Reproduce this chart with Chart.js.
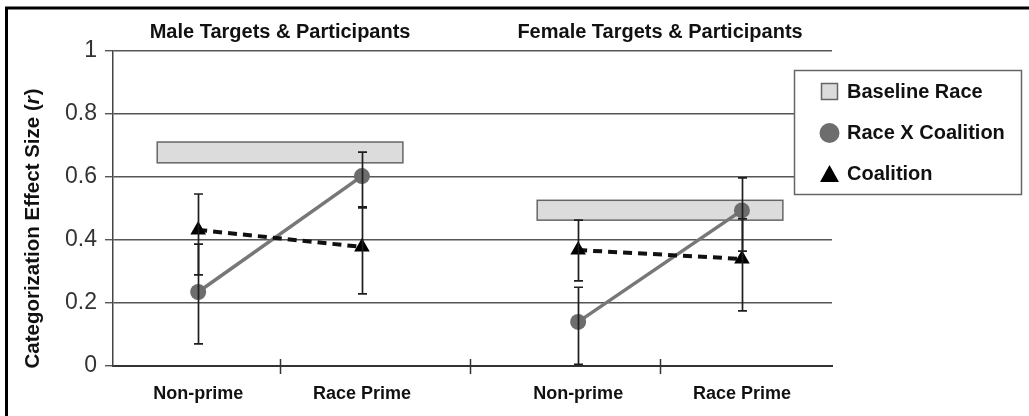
<!DOCTYPE html>
<html>
<head>
<meta charset="utf-8">
<script src="https://cdn.jsdelivr.net/npm/chart.js@4/dist/chart.umd.min.js"></script>
<style>
  body { margin: 0; background: #fff; }
  canvas { display: block; }
</style>
</head>
<body>
<canvas id="myChart" width="1029" height="416"></canvas>
<script>
// data
const groupTitles = ['Male Targets & Participants', 'Female Targets & Participants'];
const conditions = ['Non-prime', 'Race Prime', 'Non-prime', 'Race Prime'];
const xSlots = [1, 2, 3.32, 4.32];
const xDividers = [1.5, 2.66, 3.82];
const yTicks = [0, 0.2, 0.4, 0.6, 0.8, 1];

const raceXCoalition = [0.235, 0.603, 0.14, 0.494];
const rxcLow = [0.07, 0.505, 0.005, 0.365];
const rxcHigh = [0.387, 0.679, 0.25, 0.597];

const coalition = [0.432, 0.378, 0.368, 0.34];
const coalLow = [0.289, 0.229, 0.27, 0.175];
const coalHigh = [0.546, 0.502, 0.463, 0.467];

const baselineLow = [0.645, 0.463];
const baselineHigh = [0.711, 0.526];
const baselineFrom = [0.75, 3.07];
const baselineTo = [2.25, 4.57];

const FONT = '"Liberation Sans", Arial, sans-serif';
const RXC_GREY = '#6d6d6d';
const BOX_FILL = '#dcdcdc';

function pts(vals, g) {
    return [0, 1].map(k => ({ x: xSlots[g * 2 + k], y: vals[g * 2 + k] }));
}

const datasets = [];
for (let g = 0; g < 2; g++) {
    datasets.push({
        label: 'Coalition',
        data: pts(coalition, g),
        showLine: true,
        borderColor: '#111',
        borderWidth: 4,
        borderDash: [9, 6],
        pointStyle: 'triangle',
        pointRadius: 9,
        pointBackgroundColor: '#000',
        pointBorderWidth: 0,
        order: 1
    });
}
for (let g = 0; g < 2; g++) {
    datasets.push({
        label: 'Race X Coalition',
        data: pts(raceXCoalition, g),
        showLine: true,
        borderColor: '#777',
        borderWidth: 3.5,
        pointStyle: 'circle',
        pointRadius: 8,
        pointBackgroundColor: RXC_GREY,
        pointBorderWidth: 0,
        order: 2
    });
}

const decor = {
    id: 'decor',
    beforeDraw(chart) {
        const c = chart.ctx;
        c.save();
        c.fillStyle = '#fff';
        c.fillRect(0, 0, chart.width, chart.height);
        // frame (left + top)
        c.strokeStyle = '#000';
        c.lineWidth = 3;
        c.beginPath();
        c.moveTo(6.5, chart.height);
        c.lineTo(6.5, 8);
        c.lineTo(chart.width, 8);
        c.stroke();
        c.restore();
    },
    beforeDatasetsDraw(chart) {
        const c = chart.ctx;
        const xs = chart.scales.x, ys = chart.scales.y;
        c.save();
        for (let g = 0; g < 2; g++) {
            const x1 = xs.getPixelForValue(baselineFrom[g]);
            const x2 = xs.getPixelForValue(baselineTo[g]);
            const y1 = ys.getPixelForValue(baselineHigh[g]);
            const y2 = ys.getPixelForValue(baselineLow[g]);
            c.fillStyle = BOX_FILL;
            c.fillRect(x1, y1, x2 - x1, y2 - y1);
            c.strokeStyle = '#666';
            c.lineWidth = 1.5;
            c.strokeRect(x1, y1, x2 - x1, y2 - y1);
        }
        c.restore();
    },
    afterDatasetsDraw(chart) {
        const c = chart.ctx;
        const xs = chart.scales.x, ys = chart.scales.y;
        c.save();
        c.strokeStyle = '#1e1e1e';
        c.lineWidth = 1.7;
        const bar = (xv, lo, hi) => {
            const x = Math.round(xs.getPixelForValue(xv)) + 0.5;
            const a = ys.getPixelForValue(lo), b = ys.getPixelForValue(hi);
            c.beginPath();
            c.moveTo(x, a); c.lineTo(x, b);
            c.moveTo(x - 4.5, a); c.lineTo(x + 4.5, a);
            c.moveTo(x - 4.5, b); c.lineTo(x + 4.5, b);
            c.stroke();
        };
        for (let i = 0; i < xSlots.length; i++) {
            bar(xSlots[i], rxcLow[i], rxcHigh[i]);
            bar(xSlots[i], coalLow[i], coalHigh[i]);
        }
        c.restore();
    },
    afterDraw(chart) {
        const c = chart.ctx;
        const xs = chart.scales.x;
        const area = chart.chartArea;
        c.save();
        // divider ticks crossing the x axis
        c.strokeStyle = '#333';
        c.lineWidth = 1.5;
        xDividers.forEach(v => {
            const x = Math.round(xs.getPixelForValue(v)) + 0.5;
            c.beginPath();
            c.moveTo(x, area.bottom - 7);
            c.lineTo(x, area.bottom + 8);
            c.stroke();
        });

        // panel titles
        c.fillStyle = '#111';
        c.font = 'bold 20px ' + FONT;
        c.textAlign = 'center';
        c.textBaseline = 'middle';
        for (let g = 0; g < 2; g++) {
            const mid = (xSlots[g * 2] + xSlots[g * 2 + 1]) / 2;
            c.fillText(groupTitles[g], xs.getPixelForValue(mid), 32);
        }

        // y axis title with italic r
        c.save();
        c.translate(33, 229);
        c.rotate(-Math.PI / 2);
        const f = 'bold 20.5px ' + FONT, fi = 'italic bold 20.5px ' + FONT;
        const p1 = 'Categorization Effect Size (';
        const p2 = 'r';
        const p3 = ')';
        c.font = f;
        const w1 = c.measureText(p1).width, w3 = c.measureText(p3).width;
        c.font = fi;
        const w2 = c.measureText(p2).width;
        const x0 = -(w1 + w2 + w3) / 2;
        c.textAlign = 'left';
        c.font = f;
        c.fillText(p1, x0, 0);
        c.font = fi;
        c.fillText(p2, x0 + w1, 0);
        c.font = f;
        c.fillText(p3, x0 + w1 + w2 + 1, 0);
        c.restore();

        // legend
        const lx = 794.5, ly = 70.5, lw = 227, lh = 124;
        c.fillStyle = '#fff';
        c.fillRect(lx, ly, lw, lh);
        c.strokeStyle = '#666';
        c.lineWidth = 1.5;
        c.strokeRect(lx, ly, lw, lh);

        c.fillStyle = BOX_FILL;
        c.fillRect(821.5, 83.5, 16, 16);
        c.strokeStyle = '#666';
        c.strokeRect(821.5, 83.5, 16, 16);

        c.fillStyle = RXC_GREY;
        c.beginPath();
        c.arc(829.5, 133, 10, 0, Math.PI * 2);
        c.fill();

        c.fillStyle = '#000';
        c.beginPath();
        c.moveTo(829.5, 165);
        c.lineTo(839, 182);
        c.lineTo(820, 182);
        c.closePath();
        c.fill();

        c.fillStyle = '#111';
        c.font = 'bold 20px ' + FONT;
        c.textAlign = 'left';
        c.textBaseline = 'middle';
        c.fillText('Baseline Race', 847, 92);
        c.fillText('Race X Coalition', 847, 133);
        c.fillText('Coalition', 847, 174);
        c.restore();
    }
};

const ctx = document.getElementById('myChart').getContext('2d');
const myChart = new Chart(ctx, {
    type: 'scatter',
    data: { datasets: datasets },
    options: {
        responsive: false,
        animation: false,
        devicePixelRatio: 1,
        layout: { padding: { top: 51, right: 197, left: 0, bottom: 0 } },
        plugins: {
            legend: { display: false },
            tooltip: { enabled: false }
        },
        scales: {
            x: {
                type: 'linear',
                min: 0.48,
                max: 4.87,
                afterBuildTicks: s => { s.ticks = xSlots.map(v => ({ value: v })); },
                afterFit: s => { s.height = 50; },
                ticks: {
                    autoSkip: false,
                    maxRotation: 0,
                    padding: 17,
                    color: '#111',
                    font: { family: FONT, size: 18, weight: 'bold' },
                    callback: (v, i) => conditions[i]
                },
                grid: { display: false, drawTicks: false },
                border: { display: true, color: '#333', width: 2 }
            },
            y: {
                min: 0,
                max: 1,
                afterBuildTicks: s => { s.ticks = yTicks.map(v => ({ value: v })); },
                afterFit: s => { s.width = 113; },
                ticks: {
                    padding: 8,
                    color: '#333',
                    font: { family: FONT, size: 23 },
                    callback: v => (v === 0 || v === 1) ? String(v) : v.toFixed(1)
                },
                grid: { color: '#555', lineWidth: 1.4, tickLength: 8 },
                border: { color: '#444', width: 1.5 }
            }
        }
    },
    plugins: [decor]
});
</script>
</body>
</html>
